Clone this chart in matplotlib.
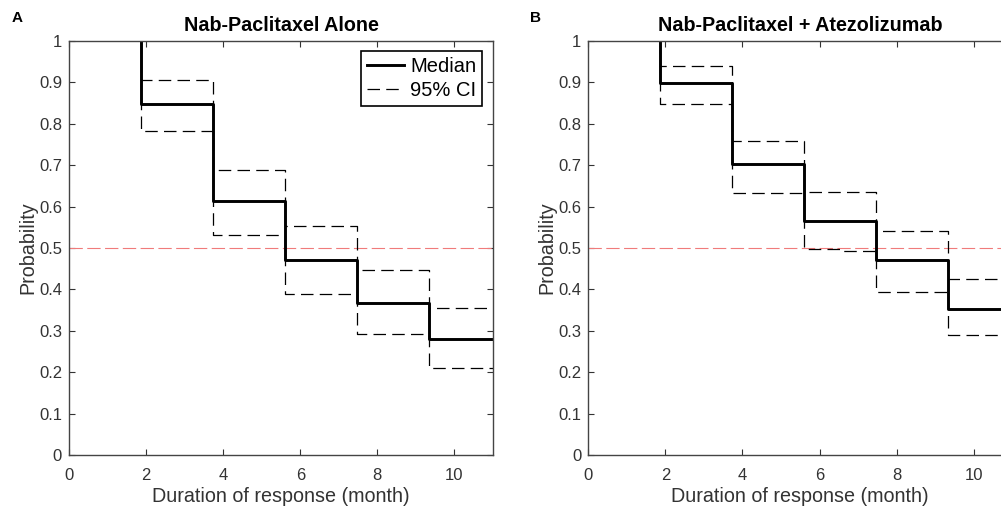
import numpy as np
import matplotlib
matplotlib.use('Agg')
import matplotlib.pyplot as plt

# times (months) at which the curves drop; all curves start at 1 at t=0
drop_times = [1.87, 3.73, 5.6, 7.47, 9.33]

# Nab-Paclitaxel alone
a_median = [0.847, 0.613, 0.472, 0.368, 0.279]
a_upper = [0.905, 0.689, 0.554, 0.447, 0.355]
a_lower = [0.782, 0.531, 0.390, 0.292, 0.209]

# Nab-Paclitaxel + Atezolizumab
b_median = [0.899, 0.702, 0.565, 0.470, 0.353]
b_upper = [0.939, 0.758, 0.635, 0.542, 0.424]
b_lower_times = [1.87, 3.73, 5.6, 6.54, 7.47, 9.33]
b_lower = [0.847, 0.633, 0.498, 0.492, 0.393, 0.289]

x_max = 11
yticks = [0, 0.1, 0.2, 0.3, 0.4, 0.5, 0.6, 0.7, 0.8, 0.9, 1]
ytick_labels = ['0', '0.1', '0.2', '0.3', '0.4', '0.5', '0.6', '0.7', '0.8', '0.9', '1']
xticks = [0, 2, 4, 6, 8, 10]

plt.rcParams['font.family'] = ['Liberation Sans', 'DejaVu Sans']
plt.rcParams['font.size'] = 12

fig = plt.figure(figsize=(10.01, 5.07), dpi=100)
fig.patch.set_facecolor('white')

W, H = 1001.0, 507.0
ax_w = 424.0 / W
ax_b = 1 - 455.0 / H
ax_h = 414.0 / H
axA = fig.add_axes([69.0 / W, ax_b, ax_w, ax_h])
axB = fig.add_axes([588.3 / W, ax_b, ax_w, ax_h])

gray = '#333333'
ci_dash = (10, 5)


def stairs(ax, t, vals, **kw):
    # 'pre' steps: starts at (t[0], 1), drops at each time, runs on to x_max
    return ax.step(t + [x_max], [1.0] + vals, where='pre', **kw)


def draw_panel(ax, title, med, up, lo_t, lo):
    stairs(ax, drop_times, med, color='black', lw=2.1, label='Median', zorder=4)
    stairs(ax, drop_times, up, color='black', lw=0.9, dashes=ci_dash, label='95% CI', zorder=3)
    stairs(ax, lo_t, lo, color='black', lw=0.9, dashes=ci_dash, zorder=3)
    ax.axhline(0.5, color='#f07b7b', lw=0.8, dashes=(12, 4), zorder=2)
    ax.set_xlim(0, x_max)
    ax.set_ylim(0, 1)
    ax.set_xticks(xticks)
    ax.set_yticks(yticks)
    ax.set_yticklabels(ytick_labels)
    ax.tick_params(direction='in', length=4, width=0.8, top=True, right=True,
                   colors=gray, labelsize=12)
    ax.tick_params(axis='x', pad=9)
    ax.tick_params(axis='y', pad=5)
    for s in ax.spines.values():
        s.set_color('#444444')
        s.set_linewidth(1.0)
        s.set_zorder(5)
    ax.set_title(title, fontsize=14.2, fontweight='bold', pad=7)
    ax.set_xlabel('Duration of response (month)', fontsize=14.2, color=gray, labelpad=3)
    ax.set_ylabel('Probability', fontsize=14.2, color=gray, labelpad=1)


draw_panel(axA, 'Nab-Paclitaxel Alone', a_median, a_upper, drop_times, a_lower)
draw_panel(axB, 'Nab-Paclitaxel + Atezolizumab', b_median, b_upper, b_lower_times, b_lower)

leg = axA.legend(loc='upper right', bbox_to_anchor=(0.975, 0.977), fancybox=False,
                 edgecolor='black', framealpha=1, fontsize=14.5, handlelength=1.85,
                 handletextpad=0.3, borderpad=0.3, labelspacing=0.25, borderaxespad=0)
leg.get_frame().set_linewidth(1.2)

fig.text(12 / W, 1 - 18 / H, 'A', fontsize=11, fontweight='bold', ha='left', va='center')
fig.text(530 / W, 1 - 18 / H, 'B', fontsize=11, fontweight='bold', ha='left', va='center')

fig.savefig('out.png', dpi=100)
